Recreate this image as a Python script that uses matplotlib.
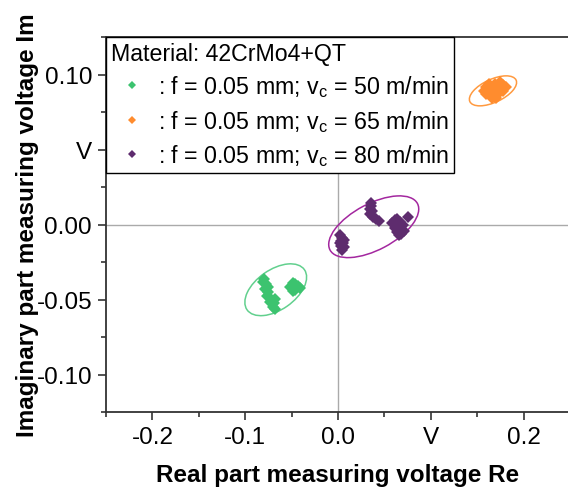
import matplotlib
matplotlib.use("Agg")
import matplotlib.pyplot as plt
from matplotlib.patches import Ellipse
from matplotlib.transforms import ScaledTranslation

plt.rcParams['font.family'] = ['Liberation Sans', 'DejaVu Sans']

# measured points (Re, Im) in V
green_x = [-0.080, -0.078, -0.079, -0.0758, -0.0768, -0.0736, -0.0715, -0.0682, -0.0693,
           -0.0704, -0.0682, -0.0736, -0.0758, -0.0811,
           -0.052, -0.049, -0.049, -0.046, -0.046, -0.043, -0.041, -0.047]
green_y = [-0.0362, -0.0396, -0.0429, -0.0449, -0.0475, -0.0489, -0.0509, -0.0495, -0.0522,
           -0.0549, -0.0562, -0.0515, -0.0415, -0.0382,
           -0.0415, -0.039, -0.044, -0.0395, -0.0435, -0.041, -0.042, -0.0415]

orange_x = [0.157, 0.160, 0.160, 0.163, 0.163, 0.166, 0.166, 0.169, 0.169, 0.172, 0.172,
            0.175, 0.175, 0.178, 0.178, 0.181, 0.166, 0.170]
orange_y = [0.089, 0.092, 0.087, 0.090, 0.094, 0.086, 0.091, 0.089, 0.094, 0.092, 0.087,
            0.090, 0.095, 0.093, 0.089, 0.092, 0.084, 0.084]

purple_x = [0.002, 0.004, 0.003, 0.005, 0.003, 0.006, 0.004, 0.002, 0.006,
            0.036, 0.034, 0.037, 0.035, 0.038, 0.041, 0.044, 0.036,
            0.058, 0.061, 0.064, 0.067, 0.070, 0.067, 0.064, 0.061, 0.064, 0.068, 0.071, 0.066,
            0.075]
purple_y = [-0.007, -0.009, -0.011, -0.012, -0.014, -0.015, -0.017, -0.012, -0.010,
            0.0125, 0.0105, 0.009, 0.007, 0.005, 0.0038, 0.0025, 0.0145,
            0.001, 0.003, 0.004, 0.002, 0.000, -0.003, -0.005, -0.002, 0.000, -0.006, -0.004, -0.007,
            0.005]

labels = [': f = 0.05 mm; v$_\\mathregular{c}$ = 50 m/min',
          ': f = 0.05 mm; v$_\\mathregular{c}$ = 65 m/min',
          ': f = 0.05 mm; v$_\\mathregular{c}$ = 80 m/min']
colors = ['#3cc36f', '#ff8c2e', '#5e2c6e']
ell_colors = ['#62d08e', '#ff9a40', '#a3279f']

# confidence ellipses: centre (data), semi axes (px), angle (deg)
ell_center = [(-0.0671, -0.0435), (0.167, 0.0891), (0.0385, -0.0015)]
ell_axes = [(35, 20), (25.5, 11.5), (49.5, 23)]
ell_angle = [35, 25, 28]

xticks = [-0.2, -0.1, 0.0, 0.1, 0.2]
xticklabels = ['-0.2', '-0.1', '0.0', 'V', '0.2']
yticks = [0.10, 0.05, 0.0, -0.05, -0.10]
yticklabels = ['0.10', 'V', '0.00', '-0.05', '-0.10']

fig = plt.figure(figsize=(5.68, 4.89), dpi=100)
ax = fig.add_axes([106/568, 76/489, 464/568, 375/489])

ax.axhline(0, color='#aaaaaa', lw=1, zorder=0)
ax.axvline(0, color='#aaaaaa', lw=1, zorder=0)

data = [(green_x, green_y), (orange_x, orange_y), (purple_x, purple_y)]
for (xs, ys), c, lab in zip(data, colors, labels):
    ax.plot(xs, ys, 'D', color=c, ms=6.5, mew=0, ls='none', label=lab)

for (cx, cy), (a, b), ang, ec in zip(ell_center, ell_axes, ell_angle, ell_colors):
    tr = fig.dpi_scale_trans + ScaledTranslation(cx, cy, ax.transData)
    e = Ellipse((0, 0), 2*a/100, 2*b/100, angle=ang, transform=tr,
                fill=False, edgecolor=ec, lw=1.1)
    ax.add_patch(e)

ax.set_xlim(-0.25, 0.25)
ax.set_ylim(-0.125, 0.125)
ax.set_xticks(xticks)
ax.set_xticklabels(xticklabels)
ax.set_yticks(yticks)
ax.set_yticklabels(yticklabels)
ax.set_xticks([-0.25, -0.15, -0.05, 0.05, 0.15, 0.25], minor=True)
ax.set_yticks([-0.125, -0.075, -0.025, 0.025, 0.075, 0.125], minor=True)
ax.tick_params(which='major', direction='out', length=6, width=1.2, labelsize=17.5,
               color='#333333', pad=4)
ax.tick_params(which='minor', direction='out', length=3.5, width=1.2, color='#333333')

for s in ['left', 'bottom', 'top']:
    ax.spines[s].set_color('#333333')
    ax.spines[s].set_linewidth(1.3)
ax.spines['right'].set_visible(False)

ax.set_xlabel('Real part measuring voltage Re', fontsize=17.5, fontweight='bold')
ax.set_ylabel('Imaginary part measuring voltage Im', fontsize=17.5, fontweight='bold')
ax.xaxis.set_label_coords(0.5, -0.135)
ax.yaxis.set_label_coords(-0.145, 0.5)

leg = ax.legend(loc='upper left', bbox_to_anchor=(0, 1), borderaxespad=0,
                title='Material: 42CrMo4+QT', alignment='left', fontsize=16.7,
                title_fontsize=16.7, frameon=True, fancybox=False, edgecolor='black',
                framealpha=1, markerscale=0.65, handlelength=1.85, handletextpad=0.2,
                labelspacing=0.37, borderpad=0.2)
leg.get_frame().set_linewidth(1.0)

fig.savefig('out.png', dpi=100)
